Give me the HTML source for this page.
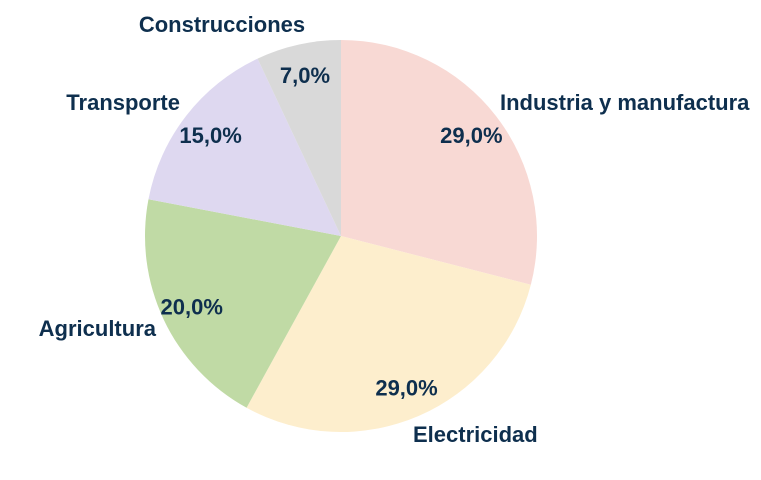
<!DOCTYPE html>
<html><head><meta charset="utf-8"><style>
html,body{margin:0;padding:0;background:#fff;overflow:hidden;}
svg text{font-family:"Liberation Sans",Arial,sans-serif;font-weight:bold;fill:#0e2f4e;}
</style></head><body>
<svg id="chart" width="761" height="475" xmlns="http://www.w3.org/2000/svg"></svg>
<script>
const categories = ["Industria y manufactura","Electricidad","Agricultura","Transporte","Construcciones"];
const values = [29.0,29.0,20.0,15.0,7.0];
const pctLabels = ["29,0%","29,0%","20,0%","15,0%","7,0%"];
const colors = ["#f8d9d4","#fdeecd","#c0daa5","#ded8f0","#d9d9d9"];
const cx=341, cy=236, R=196;
const catPos=[[500,110,"start"],[413,442,"start"],[156,336,"end"],[180,110,"end"],[222,32,"middle"]];
const svg=document.getElementById('chart');
const NS="http://www.w3.org/2000/svg";
const total=values.reduce((a,b)=>a+b,0);
function pt(a,r){return [cx+r*Math.sin(a), cy-r*Math.cos(a)];}
let acc=0;
values.forEach((v,i)=>{
  const a0=acc/total*2*Math.PI; acc+=v; const a1=acc/total*2*Math.PI;
  const p0=pt(a0,R), p1=pt(a1,R);
  const large=(a1-a0)>Math.PI?1:0;
  const path=document.createElementNS(NS,'path');
  path.setAttribute('d',`M${cx},${cy} L${p0[0]},${p0[1]} A${R},${R} 0 ${large} 1 ${p1[0]},${p1[1]} Z`);
  path.setAttribute('fill',colors[i]);
  
  
  svg.appendChild(path);
});
acc=0;
values.forEach((v,i)=>{
  const am=(acc+v/2)/total*2*Math.PI; acc+=v;
  const p=pt(am,165);
  const t=document.createElementNS(NS,'text');
  t.setAttribute('x',p[0]); t.setAttribute('y',p[1]+8);
  t.setAttribute('text-anchor','middle'); t.setAttribute('font-size','22');
  t.textContent=pctLabels[i];
  
  
  svg.appendChild(t);
  const c=document.createElementNS(NS,'text');
  c.setAttribute('x',catPos[i][0]); c.setAttribute('y',catPos[i][1]);
  c.setAttribute('text-anchor',catPos[i][2]); c.setAttribute('font-size','22');
  c.textContent=categories[i];
  
  
  svg.appendChild(c);
});
</script>
</body></html>
